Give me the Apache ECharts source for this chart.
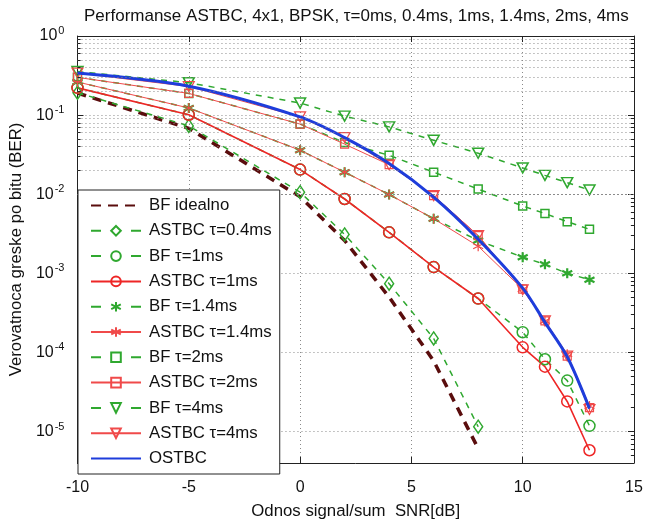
<!DOCTYPE html>
<html>
<head>
<meta charset="utf-8">
<script src="https://cdn.jsdelivr.net/npm/echarts@6/dist/echarts.min.js"></script>
<style>
  html, body { margin: 0; padding: 0; background: #fff; }
  #chart { width: 666px; height: 525px; }
</style>
</head>
<body>
<div id="chart"></div>
<script>
// SNR points (dB)
const snr = [-10, -5, 0, 2, 4, 6, 8, 10, 11, 12, 13];
const snrShort = [-10, -5, 0, 2, 4, 6, 8];

// Bit error rates
const berBfIdeal  = [0.19, 0.068, 0.0093, 0.0026, 0.0005, 7.8e-5, 6.1e-6];
const berAstbc04  = [0.192, 0.073, 0.0106, 0.0031, 0.00074, 0.00015, 1.15e-5];
const berBf1      = [0.221, 0.101, 0.0205, 0.0087, 0.0033, 0.0012, 0.00048, 0.00018, 8.2e-5, 4.4e-5, 1.18e-5];
const berAstbc1   = [0.221, 0.101, 0.0205, 0.0087, 0.0033, 0.0012, 0.00048, 0.000116, 6.6e-5, 2.4e-5, 5.8e-6];
const berBf14     = [0.262, 0.123, 0.036, 0.019, 0.0099, 0.0049, 0.0026, 0.0016, 0.0013, 0.001, 0.00083];
const berAstbc14  = [0.262, 0.123, 0.036, 0.019, 0.0099, 0.0049, 0.0022, 0.00063, 0.00025, 9.5e-5, 2.1e-5];
const berBf2      = [0.30, 0.188, 0.077, 0.045, 0.031, 0.019, 0.0116, 0.0071, 0.0057, 0.0045, 0.0036];
const berAstbc2   = [0.30, 0.188, 0.077, 0.043, 0.0236, 0.0096, 0.003, 0.00063, 0.00025, 9e-5, 2e-5];
const berBf4      = [0.355, 0.257, 0.142, 0.097, 0.071, 0.048, 0.033, 0.0215, 0.0173, 0.014, 0.0113];
const berAstbc4   = [0.34, 0.23, 0.095, 0.052, 0.0236, 0.0096, 0.003, 0.00062, 0.00025, 9e-5, 1.9e-5];
const berOstbc    = [0.341, 0.232, 0.095, 0.052, 0.0245, 0.0092, 0.0027, 0.00065, 0.00024, 8.8e-5, 1.95e-5];

// Axis ticks
const xTicks = [-10, -5, 0, 5, 10, 15];
const yMin = 4e-6, yMax = 1;
const minorMantissas = [2, 3, 4, 5, 6, 7, 8, 9];
const decades = [-6, -5, -4, -3, -2, -1];

const FONT = '"Liberation Sans", Arial, Helvetica, sans-serif';
const GREEN = '#2fa82f', RED = '#ee2626', RED_LIGHT = '#f04a4a', MAROON = '#5a0d0d', BLUE = '#1e3ddb';
const AXIS = '#222';
const GRID = '#8a8a8a';

const STAR = 'path://M0,-6L0,6M-5.2,-3L5.2,3M-5.2,3L5.2,-3';

function pairs(xs, ys) { return ys.map((y, i) => [xs[i], y]); }

function series(name, xs, ys, opt) {
  return Object.assign({
    name, type: 'line', data: pairs(xs, ys),
    animation: false,
    z: 3
  }, opt);
}

const bfLine = { color: GREEN, width: 1.5, type: [6, 6] };

// Minor grid values between decades
const minorY = [];
decades.forEach(k => minorMantissas.forEach(m => {
  const v = m * Math.pow(10, k);
  if (v > yMin * 1.01 && v < yMax) minorY.push(v);
}));

const gridLines = minorY.map(v => ({ yAxis: v }));
const tickLen = 0.14;
const minorTicks = [];
minorY.forEach(v => {
  minorTicks.push([{ coord: [-10, v] }, { coord: [-10 + tickLen, v] }]);
  minorTicks.push([{ coord: [15 - tickLen, v] }, { coord: [15, v] }]);
});

const chart = echarts.init(document.getElementById('chart'), null, { renderer: 'canvas' });

const option = {
  backgroundColor: '#fff',
  animation: false,
  textStyle: { fontFamily: FONT },
  title: {
    text: 'Performanse ASTBC, 4x1, BPSK, \u03c4=0ms, 0.4ms, 1ms, 1.4ms, 2ms, 4ms',
    left: 84, top: 8,
    textStyle: { fontFamily: FONT, fontSize: 17, fontWeight: 'normal', color: '#111' },
    padding: 0
  },
  grid: { left: 77, right: 32, top: 36, bottom: 51, containLabel: false },
  legend: {
    orient: 'vertical',
    left: 78, top: 190,
    backgroundColor: '#fff',
    borderColor: AXIS, borderWidth: 1,
    padding: [7, 8, 7, 12],
    itemWidth: 50, itemHeight: 12, itemGap: 8.3,
    textStyle: { fontFamily: FONT, fontSize: 16.8, lineHeight: 17, color: '#111', padding: [0, 0, 0, 3] },
    selectedMode: false,
    z: 10
  },
  xAxis: [{
    type: 'value', min: -10, max: 15, interval: 5,
    name: 'Odnos signal/sum  SNR[dB]', nameLocation: 'middle', nameGap: 40,
    nameTextStyle: { fontFamily: FONT, fontSize: 16.8, color: '#111' },
    axisLine: { onZero: false, lineStyle: { color: AXIS, width: 1 } },
    axisTick: { inside: true, length: 6, lineStyle: { color: AXIS } },
    axisLabel: { fontFamily: FONT, fontSize: 16, color: '#111', margin: 17 },
    splitLine: { show: true, lineStyle: { color: GRID, type: [1, 3], width: 1 } }
  }, {
    type: 'value', min: -10, max: 15, interval: 5, position: 'top',
    axisLine: { show: true, onZero: false, lineStyle: { color: AXIS, width: 1 } },
    axisTick: { show: true, inside: true, length: 6, lineStyle: { color: AXIS } },
    axisLabel: { show: false },
    splitLine: { show: false }
  }],
  yAxis: [{
    type: 'log', logBase: 10, min: yMin, max: yMax,
    name: 'Verovatnoca greske po bitu (BER)', nameLocation: 'middle', nameGap: 48,
    nameRotate: 90,
    nameTextStyle: { fontFamily: FONT, fontSize: 16.8, color: '#111' },
    axisLine: { show: true, onZero: false, lineStyle: { color: AXIS, width: 1 } },
    axisTick: { inside: true, length: 6, lineStyle: { color: AXIS } },
    axisLabel: {
      margin: 13, color: '#111',
      formatter: function (v) {
        const e = Math.log10(v);
        const r = Math.round(e);
        if (Math.abs(e - r) > 1e-6) return '';
        return '{b|10}{s|' + r + '}';
      },
      rich: {
        b: { fontFamily: FONT, fontSize: 16, color: '#111' },
        s: { fontFamily: FONT, fontSize: 11, color: '#111', padding: [0, 0, 10, 1] }
      }
    },
    splitLine: { show: true, lineStyle: { color: GRID, type: [1, 3], width: 1 } }
  }, {
    type: 'log', logBase: 10, min: yMin, max: yMax, position: 'right',
    axisLine: { show: true, onZero: false, lineStyle: { color: AXIS, width: 1 } },
    axisTick: { show: true, inside: true, length: 6, lineStyle: { color: AXIS } },
    axisLabel: { show: false },
    splitLine: { show: false }
  }],
  series: [
    // dotted minor grid and minor ticks of the log axis
    {
      name: '_grid', type: 'line', data: [], silent: true, z: 1,
      markLine: {
        silent: true, symbol: ['none', 'none'], label: { show: false }, animation: false,
        lineStyle: { color: GRID, type: [1, 3], width: 1 },
        emphasis: { disabled: true },
        data: gridLines
      }
    },
    {
      name: '_ticks', type: 'line', data: [], silent: true, z: 2,
      markLine: {
        silent: true, symbol: ['none', 'none'], label: { show: false }, animation: false,
        lineStyle: { color: AXIS, type: 'solid', width: 1 },
        emphasis: { disabled: true },
        data: minorTicks
      }
    },
    series('BF idealno', snrShort, berBfIdeal, {
      symbol: 'none', showSymbol: false,
      itemStyle: { color: MAROON },
      lineStyle: { color: MAROON, width: 3.5, type: [9, 7] }
    }),
    series('ASTBC \u03c4=0.4ms', snrShort, berAstbc04, {
      symbol: 'diamond', symbolSize: [9, 13],
      itemStyle: { color: 'none', borderColor: GREEN, borderWidth: 1.5 },
      lineStyle: bfLine
    }),
    series('BF \u03c4=1ms', snr, berBf1, {
      symbol: 'circle', symbolSize: 11,
      itemStyle: { color: 'none', borderColor: GREEN, borderWidth: 1.5 },
      lineStyle: bfLine
    }),
    series('ASTBC \u03c4=1ms', snr, berAstbc1, {
      symbol: 'circle', symbolSize: 11,
      itemStyle: { color: 'none', borderColor: RED, borderWidth: 1.5 },
      lineStyle: { color: RED, width: 1.6, type: 'solid' }
    }),
    series('BF \u03c4=1.4ms', snr, berBf14, {
      symbol: STAR, symbolSize: 10,
      itemStyle: { color: 'none', borderColor: GREEN, borderWidth: 2.2 },
      lineStyle: bfLine
    }),
    series('ASTBC \u03c4=1.4ms', snr, berAstbc14, {
      symbol: STAR, symbolSize: 10,
      itemStyle: { color: 'none', borderColor: RED_LIGHT, borderWidth: 1.2 },
      lineStyle: { color: RED_LIGHT, width: 1, type: 'solid' }
    }),
    series('BF \u03c4=2ms', snr, berBf2, {
      symbol: 'rect', symbolSize: 8,
      itemStyle: { color: 'none', borderColor: GREEN, borderWidth: 1.5 },
      lineStyle: bfLine
    }),
    series('ASTBC \u03c4=2ms', snr, berAstbc2, {
      symbol: 'rect', symbolSize: 8,
      itemStyle: { color: 'none', borderColor: RED_LIGHT, borderWidth: 1.2 },
      lineStyle: { color: RED_LIGHT, width: 1, type: 'solid' }
    }),
    series('BF \u03c4=4ms', snr, berBf4, {
      symbol: 'triangle', symbolRotate: 180, symbolSize: [11, 10],
      itemStyle: { color: 'none', borderColor: GREEN, borderWidth: 1.5 },
      lineStyle: bfLine
    }),
    series('ASTBC \u03c4=4ms', snr, berAstbc4, {
      symbol: 'triangle', symbolRotate: 180, symbolSize: [11, 10],
      itemStyle: { color: 'none', borderColor: RED_LIGHT, borderWidth: 1.2 },
      lineStyle: { color: RED_LIGHT, width: 1, type: 'solid' }
    }),
    series('OSTBC', snr, berOstbc, {
      symbol: 'none', showSymbol: false, smooth: 0.3,
      itemStyle: { color: BLUE },
      lineStyle: { color: BLUE, width: 3, type: 'solid' },
      z: 4
    })
  ]
};

// Legend entries: marker-less lines get no icon symbol, dashed BF lines show "— marker —"
option.legend.data = option.series.filter(s => s.name[0] !== '_').map(s => {
  const item = { name: s.name };
  if (s.symbol === 'none') item.itemStyle = { opacity: 0 };
  if (s.name === 'BF idealno') item.lineStyle = { type: [10, 7] };
  else if (s.lineStyle && Array.isArray(s.lineStyle.type)) item.lineStyle = { type: [10, 30] };
  return item;
});

chart.setOption(option);
</script>
</body>
</html>
